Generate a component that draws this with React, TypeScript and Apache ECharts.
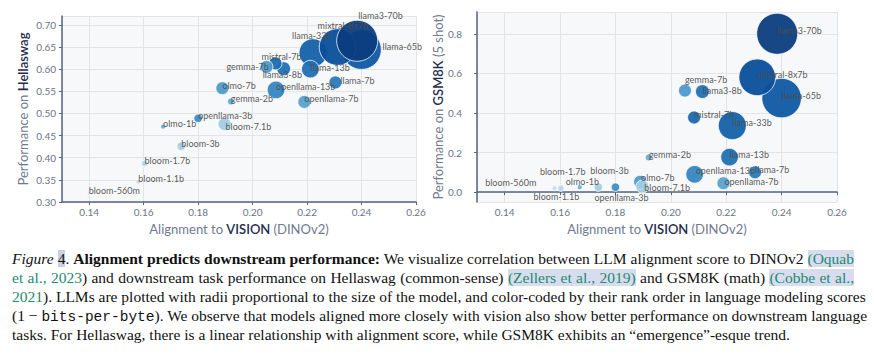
import React, { useEffect, useRef } from "react";
import * as echarts from "echarts";

// ---- data ----
const models = [
  "llama-65b", "llama-33b", "mixtral-8x7b", "llama3-70b", "llama-13b", "llama-7b",
  "llama3-8b", "mistral-7b", "gemma-7b", "openllama-13b", "openllama-7b", "olmo-7b",
  "bloom-7.1b", "gemma-2b", "openllama-3b", "bloom-3b", "olmo-1b", "bloom-1.7b",
  "bloom-1.1b", "bloom-560m",
];
const alignmentScore = [
  0.240, 0.2222, 0.2312, 0.2384, 0.2212, 0.2304,
  0.2114, 0.2084, 0.2051, 0.2086, 0.219, 0.1889,
  0.1897, 0.192, 0.180, 0.1738, 0.1671, 0.1603,
  0.158, 0.1398,
];
const hellaswagScore = [
  0.644, 0.637, 0.650, 0.664, 0.600, 0.570,
  0.601, 0.613, 0.605, 0.553, 0.526, 0.557,
  0.476, 0.527, 0.489, 0.426, 0.470, 0.387,
  0.346, 0.320,
];
const gsm8kScore = [
  0.475, 0.336, 0.58, 0.80, 0.177, 0.10,
  0.508, 0.377, 0.513, 0.090, 0.045, 0.052,
  0.028, 0.175, 0.025, 0.025, 0.025, 0.02,
  0.02, 0.025,
];
const paramsB = [
  65, 33, 56, 70, 13, 7,
  8, 7, 7, 13, 7, 7,
  7.1, 2, 3, 3, 1, 1.7,
  1.1, 0.56,
];

// ---- styles ----
const modelColors: Record<string, string> = {
  "llama3-70b": "#0b3d7e",
  "mixtral-8x7b": "#0a4f9a",
  "llama-65b": "#0e58a2",
  "llama-33b": "#1561a9",
  "llama-13b": "#2170b4",
  "llama-7b": "#2c7bba",
  "mistral-7b": "#1c6ab0",
  "llama3-8b": "#2171b5",
  "gemma-7b": "#4e9acb",
  "openllama-13b": "#3787c0",
  "openllama-7b": "#5aa2cf",
  "olmo-7b": "#509cca",
  "gemma-2b": "#6aaed6",
  "openllama-3b": "#3f8fc5",
  "bloom-7.1b": "#a3cce3",
  "olmo-1b": "#6aaed6",
  "bloom-3b": "#a6cde3",
  "bloom-1.7b": "#b8d5ea",
  "bloom-1.1b": "#c6dbef",
  "bloom-560m": "#dce9f5",
};
const labelOffsetHella: Record<string, number[]> = {
  "llama-65b": [21, -3],
  "llama-33b": [-21, -17],
  "mixtral-8x7b": [-20, -22],
  "llama3-70b": [1, -25],
  "llama-13b": [0, -2],
  "llama-7b": [5, -2],
  "llama3-8b": [-21, 6],
  "mistral-7b": [-14, -7],
  "gemma-7b": [-40, 0],
  "bloom-7.1b": [1, 2],
};
const labelOffsetGsm: Record<string, number[]> = {
  "gemma-7b": [0, -11],
  "llama3-8b": [0, -1],
  "bloom-7.1b": [2, 1],
  "olmo-7b": [1, -4],
  "openllama-13b": [1, -4],
  "openllama-7b": [1, -2],
  "openllama-3b": [-21, 10],
  "bloom-3b": [-8, -17],
  "olmo-1b": [-14, -6],
  "bloom-1.7b": [-21, -17],
  "bloom-1.1b": [-21, 8],
  "bloom-560m": [-19, -5],
};

const FONT = "Lato, 'Open Sans', sans-serif";
const AXIS_COLOR = "#56657f";
const TICK_LABEL = "#6a7489";
const GRID_LINE = "#e4e4e4";

function buildData(yVals: number[], offsets: Record<string, number[]>) {
  return models.map((m, i) => ({
    name: m,
    value: [alignmentScore[i], yVals[i]],
    symbolSize: 4.9 * Math.sqrt(paramsB[i]),
    itemStyle: { color: modelColors[m] },
    label: { offset: offsets[m] || [0, -3] },
  }));
}

function xAxisFor(gridIndex: number) {
  return {
    type: "value",
    gridIndex,
    min: 0.13,
    max: 0.26,
    splitNumber: 6,
    axisLine: { show: true, lineStyle: { color: AXIS_COLOR, width: 1.5 } },
    axisTick: { show: true, length: 3, lineStyle: { color: AXIS_COLOR } },
    axisLabel: {
      color: TICK_LABEL,
      fontSize: 10,
      fontFamily: FONT,
      margin: 5,
      showMinLabel: false,
      formatter: (v: number) => v.toFixed(2),
    },
    splitLine: { show: true, lineStyle: { color: GRID_LINE, width: 1 } },
    name: "{a|Alignment to }{b|VISION}{a| (DINOv2)}",
    nameLocation: "middle",
    nameGap: 20,
    nameTextStyle: {
      rich: {
        a: { color: "#6f7a90", fontSize: 13, fontFamily: FONT },
        b: { color: "#1e2d4d", fontSize: 13, fontFamily: FONT, fontWeight: 600 },
      },
    },
  };
}

function seriesFor(idx: number, yVals: number[], offsets: Record<string, number[]>) {
  return {
    type: "scatter",
    xAxisIndex: idx,
    yAxisIndex: idx,
    data: buildData(yVals, offsets),
    itemStyle: { borderColor: "#ffffff", borderWidth: 0.8, opacity: 0.95 },
    label: {
      show: true,
      formatter: "{b}",
      position: ["50%", "50%"],
      align: "left",
      verticalAlign: "middle",
      fontSize: 9,
      fontFamily: FONT,
      color: "#4d4d4d",
    },
    emphasis: { disabled: true },
  };
}

export default function App() {
  const ref = useRef<HTMLDivElement>(null);
  useEffect(() => {
    if (!ref.current) return;
    const chart = echarts.init(ref.current, undefined, { renderer: "svg" });
    chart.setOption({
      animation: false,
      grid: [
        { left: 62, top: 16, width: 354, height: 189, show: true, backgroundColor: "#f7f8fa", borderWidth: 0 },
        { left: 477, top: 12, width: 360, height: 193, show: true, backgroundColor: "#f7f8fa", borderWidth: 0 },
      ],
      xAxis: [xAxisFor(0), xAxisFor(1)],
      yAxis: [
        {
          type: "value",
          gridIndex: 0,
          min: 0.3,
          max: 0.72,
          interval: 0.05,
          axisLine: { show: true, lineStyle: { color: AXIS_COLOR, width: 1.5 } },
          axisTick: { show: true, length: 3, lineStyle: { color: AXIS_COLOR } },
          axisLabel: {
            color: TICK_LABEL,
            fontSize: 10,
            fontFamily: FONT,
            margin: 6,
            showMaxLabel: false,
            formatter: (v: number) => v.toFixed(2),
          },
          splitLine: { show: true, lineStyle: { color: GRID_LINE, width: 1 } },
          name: "{a|Performance on }{b|Hellaswag}",
          nameLocation: "middle",
          nameGap: 33,
          nameTextStyle: {
            rich: {
              a: { color: "#6f7a90", fontSize: 13, fontFamily: FONT },
              b: { color: "#1e2d4d", fontSize: 13, fontFamily: FONT, fontWeight: 600 },
            },
          },
        },
        {
          type: "value",
          gridIndex: 1,
          min: -0.05,
          max: 0.91,
          splitNumber: 5,
          axisLine: { show: true, lineStyle: { color: AXIS_COLOR, width: 1.5 } },
          axisTick: { show: true, length: 3, lineStyle: { color: AXIS_COLOR } },
          axisLabel: {
            color: TICK_LABEL,
            fontSize: 10,
            fontFamily: FONT,
            margin: 15,
            showMinLabel: false,
            showMaxLabel: false,
            formatter: (v: number) => v.toFixed(1),
          },
          splitLine: { show: true, lineStyle: { color: GRID_LINE, width: 1 } },
          name: "{a|Performance on }{b|GSM8K}{a| (5 shot)}",
          nameLocation: "middle",
          nameGap: 17,
          nameTextStyle: {
            rich: {
              a: { color: "#6f7a90", fontSize: 13, fontFamily: FONT },
              b: { color: "#1e2d4d", fontSize: 13, fontFamily: FONT, fontWeight: 600 },
            },
          },
        },
      ],
      series: [seriesFor(0, hellaswagScore, labelOffsetHella), seriesFor(1, gsm8kScore, labelOffsetGsm)],
    });
    return () => chart.dispose();
  }, []);

  const green = "#1f8a6e";
  const hl = "#d7dcef";
  const lineStyle: React.CSSProperties = {
    textAlign: "justify",
    textAlignLast: "justify",
    whiteSpace: "nowrap",
    height: 19,
    lineHeight: "19px",
  };
  return (
    <div style={{ position: "fixed", left: 0, top: 0, width: 874, height: 357, background: "#fff", overflow: "hidden" }}>
      <div ref={ref} style={{ position: "absolute", left: 0, top: 0, width: 874, height: 240 }} />
      <div
        style={{
          position: "absolute",
          left: 12,
          top: 249,
          width: 842,
          fontFamily: "'Liberation Serif', 'Times New Roman', serif",
          fontSize: 15.5,
          color: "#111",
        }}
      >
        <div style={lineStyle}>
          <i>Figure</i> <span style={{ background: "#c9d0e2" }}>4</span>. <b>Alignment predicts downstream performance:</b> We visualize correlation between LLM alignment score to DINOv2{" "}
          <span style={{ background: hl, color: green }}>(Oquab</span>
        </div>
        <div style={lineStyle}>
          <span style={{ color: green }}>et al., 2023</span>) and downstream task performance on Hellaswag (common-sense){" "}
          <span style={{ background: hl, color: green }}>(Zellers et al., 2019)</span> and GSM8K (math){" "}
          <span style={{ background: hl, color: green }}>(Cobbe et al.,</span>
        </div>
        <div style={lineStyle}>
          <span style={{ color: green }}>2021</span>). LLMs are plotted with radii proportional to the size of the model, and color-coded by their rank order in language modeling scores
        </div>
        <div style={lineStyle}>
          (1 − <span style={{ fontFamily: "'Liberation Mono', 'DejaVu Sans Mono', monospace", fontSize: 14.5 }}>bits-per-byte</span>). We observe that models aligned more closely with vision also show better performance on downstream language
        </div>
        <div style={{ ...lineStyle, textAlign: "left", textAlignLast: "left" }}>
          tasks. For Hellaswag, there is a linear relationship with alignment score, while GSM8K exhibits an “emergence”-esque trend.
        </div>
      </div>
    </div>
  );
}
